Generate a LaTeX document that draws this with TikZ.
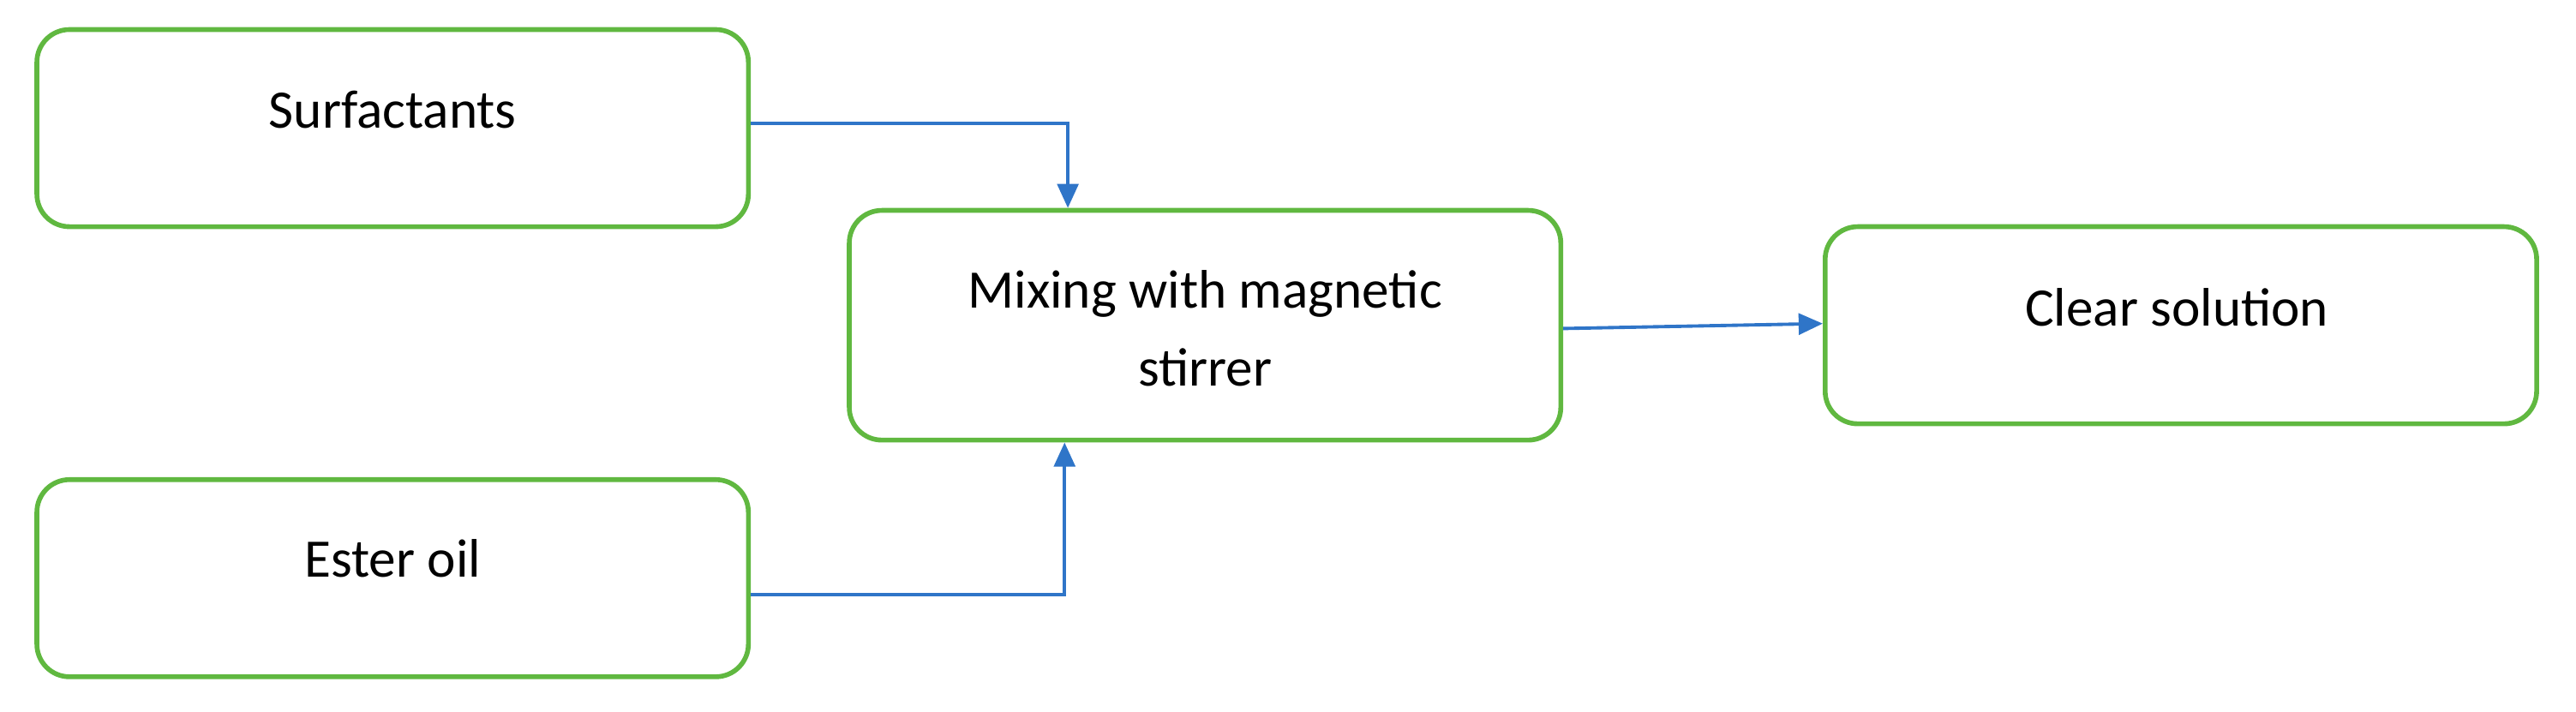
\documentclass[tikz,border=0pt]{standalone}
\usepackage{fontspec}
\setmainfont{Carlito}
\usetikzlibrary{arrows.meta}
\definecolor{gbox}{RGB}{96,184,64}
\definecolor{barr}{RGB}{47,117,200}
\begin{document}
\begin{tikzpicture}[x=0.01917cm,y=-0.01917cm,
  box/.style={draw=gbox,line width=1.6pt,rounded corners=0.38cm,minimum width=8.3cm,minimum height=2.3cm,inner sep=0pt},
  wide/.style={box,minimum height=2.68cm},
  lab/.style={font=\fontsize{18}{26}\selectfont,align=center},
  arr/.style={draw=barr,line width=1.1pt,-{Triangle[length=8pt,width=7pt]}}]
\useasboundingbox (0,0) rectangle (1568,433);
\node[box] (s) at (239,78) {};
\node[lab] (st) at (239,67) {Surfactants};
\node[box] (e) at (239,352) {};
\node[lab] (et) at (239,340) {Ester oil};
\node[wide] (m) at (733.5,198) {};
\node[lab] (mt) at (733.5,200) {Mixing with magnetic\\stirrer};
\node[box] (c) at (1327.5,198) {};
\node[lab] (ct) at (1325,187) {Clear solution};
\draw[arr] (s.east|-0,75) -| (m.north-|650,0);
\draw[arr] (e.east|-0,362) -| (m.south-|648,0);
\draw[arr] (m.east|-0,200) -- (c.west|-0,197);
\end{tikzpicture}
\end{document}
